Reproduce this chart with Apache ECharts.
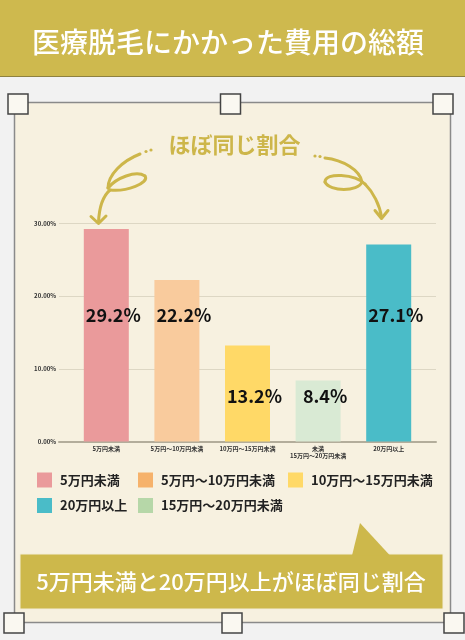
<!DOCTYPE html>
<html>
<head>
<meta charset="utf-8">
<script src="https://cdn.jsdelivr.net/npm/echarts@6/dist/echarts.min.js"></script>
<style>
html,body{margin:0;padding:0;background:#F2F2F2;}
#main{width:465px;height:640px;}
</style>
</head>
<body>
<div id="main"></div>
<script>
// ---- data ----
const categories = ['5万円未満', '5万円～10万円未満', '10万円～15万円未満', '15万円～20万円未満', '20万円以上'];
const axisLabels = ['5万円未満', '5万円～10万円未満', '10万円～15万円未満', '未満\n15万円～20万円未満', '20万円以上'];
const values = [29.2, 22.2, 13.2, 8.4, 27.1];
const yTickLabels = ['0.00%', '10.00%', '20.00%', '30.00%'];
const legendCol1 = ['5万円未満', '20万円以上'];
const legendCol2 = ['5万円～10万円未満', '15万円～20万円未満'];
const legendCol3 = ['10万円～15万円未満'];
const titleText = '医療脱毛にかかった費用の総額';
const noteText = 'ほぼ同じ割合';
const calloutText = '5万円未満と20万円以上がほぼ同じ割合';

// ---- styles ----
const FONT = '"Noto Sans CJK JP", "Noto Sans", sans-serif';
const GOLD = '#CEB94E';
const barColors = ['#EA9A9B', '#F9CB9D', '#FFD967', '#D9EAD4', '#4ABCC8'];
const legendColors = {
  '5万円未満': '#EA9A9B',
  '5万円～10万円未満': '#F6B26B',
  '10万円～15万円未満': '#FFD967',
  '20万円以上': '#4ABCC8',
  '15万円～20万円未満': '#B6D7A8'
};
const labelLift = [117, 117, 36, 36, 117];

const chart = echarts.init(document.getElementById('main'));

function legendComp(names, left) {
  return {
    orient: 'vertical', left: left, top: 472.5, padding: 0,
    itemWidth: 15, itemHeight: 15, itemGap: 10.5,
    icon: 'rect', selectedMode: false,
    textStyle: { fontFamily: FONT, fontSize: 13, fontWeight: 'bold', color: '#222', padding: [0, 0, 0, 3] },
    data: names.map(n => ({ name: n, itemStyle: { color: legendColors[n] } }))
  };
}

function handle(cx, cy) {
  return {
    type: 'rect', z: 20,
    shape: { x: cx - 10, y: cy - 10, width: 20, height: 20 },
    style: { fill: '#FAF8F1', stroke: '#444', lineWidth: 1.5 }
  };
}

const arrowStyle = { stroke: '#CDB64A', lineWidth: 3, fill: null, lineCap: 'round', lineJoin: 'round' };
function curve(p) {
  return {
    type: 'bezierCurve', z: 5,
    shape: { x1: p[0], y1: p[1], cpx1: p[2], cpy1: p[3], cpx2: p[4], cpy2: p[5], x2: p[6], y2: p[7] },
    style: arrowStyle
  };
}
function head(pts) {
  return { type: 'polyline', z: 5, shape: { points: pts }, style: arrowStyle };
}
function dot(cx, cy) {
  return { type: 'circle', z: 5, shape: { cx: cx, cy: cy, r: 1.6 }, style: { fill: '#CDB64A' } };
}

const option = {
  backgroundColor: '#F2F2F2',
  animation: false,
  graphic: [
    { type: 'rect', z: -10, shape: { x: 0, y: 0, width: 465, height: 76 }, style: { fill: GOLD } },
    { type: 'line', z: -10, shape: { x1: 0, y1: 76.5, x2: 465, y2: 76.5 }, style: { stroke: '#8E8140', lineWidth: 1.2 } },
    { type: 'text', z: 5, x: 228, y: 42, style: { text: titleText, fill: '#fff', font: '500 28px ' + FONT, textAlign: 'center', textVerticalAlign: 'middle' } },
    { type: 'rect', z: -10, shape: { x: 14.5, y: 102.5, width: 436, height: 520 }, style: { fill: '#F7F1E0', stroke: '#8A8A8A', lineWidth: 1.5 } },
    handle(18, 104), handle(230.5, 104), handle(443, 104),
    handle(14, 623), handle(232, 623), handle(454, 623),
    { type: 'text', z: 5, x: 234.5, y: 145, style: { text: noteText, fill: '#CDB64A', font: 'bold 22px ' + FONT, textAlign: 'center', textVerticalAlign: 'middle' } },
    // left curly arrow
    curve([140, 154, 122, 161, 108, 175, 108, 188]),
    curve([108, 188, 116, 178, 136, 170, 145, 176]),
    curve([145, 176, 150, 183, 126, 192, 110, 190]),
    curve([110, 190, 102, 197, 99, 210, 98.5, 222.5]),
    head([[91, 216.5], [98.5, 223.5], [106, 216]]),
    dot(146, 151.5), dot(151, 150),
    // right curly arrow
    curve([325, 158, 343, 160, 360, 170, 362, 182]),
    curve([362, 182, 358, 192, 330, 192, 325, 182]),
    curve([325, 182, 325, 172, 355, 174, 365, 184]),
    curve([365, 184, 373, 192, 380, 205, 381.5, 217.5]),
    head([[375, 210.5], [381.5, 218.5], [388, 210.5]]),
    dot(315, 156), dot(320, 156.5),
    // callout
    { type: 'rect', z: 5, shape: { x: 20, y: 554, width: 423, height: 55 }, style: { fill: '#CDB84B', stroke: '#F3EDD8', lineWidth: 1 } },
    { type: 'polygon', z: 6, shape: { points: [[352, 555.5], [360, 523], [390, 555.5]] }, style: { fill: '#CDB84B' } },
    { type: 'text', z: 7, x: 231, y: 582, style: { text: calloutText, fill: '#fff', font: '500 22px ' + FONT, textAlign: 'center', textVerticalAlign: 'middle' } }
  ],
  legend: [legendComp(legendCol1, 37), legendComp(legendCol2, 138), legendComp(legendCol3, 288)],
  grid: [
    { left: 71, right: 41, top: 223.3, bottom: 198.5 },
    { left: 59, right: 29, top: 223.3, bottom: 198.5 }
  ],
  xAxis: [
    {
      type: 'category', gridIndex: 0, data: categories,
      axisLine: { show: false }, axisTick: { show: false },
      axisLabel: {
        interval: 0, margin: 4, fontFamily: FONT, fontSize: 6, fontWeight: 'bold', color: '#333', lineHeight: 7,
        formatter: (v, i) => axisLabels[i]
      }
    },
    {
      type: 'value', gridIndex: 1, min: 0, max: 1, show: true,
      axisLine: { show: true, lineStyle: { color: '#B3AD9B', width: 2 } },
      axisTick: { show: false }, axisLabel: { show: false }, splitLine: { show: false }
    }
  ],
  yAxis: [
    { type: 'value', gridIndex: 0, min: 0, max: 30, interval: 10, show: false },
    {
      type: 'value', gridIndex: 1, min: 0, max: 30, interval: 10,
      axisLine: { show: false }, axisTick: { show: false },
      splitLine: { lineStyle: { color: '#DDD7C4', width: 1 } },
      axisLabel: {
        margin: 3, fontFamily: FONT, fontSize: 6, fontWeight: 'bold', color: '#333',
        formatter: v => yTickLabels[Math.round(v / 10)]
      }
    }
  ],
  series: categories.map((name, i) => ({
    type: 'bar', name: name, xAxisIndex: 0, yAxisIndex: 0,
    data: values.map((v, j) => (j === i ? v : '-')),
    barWidth: 45, barGap: '-100%', z: 3,
    itemStyle: { color: barColors[i] },
    label: {
      show: true, position: 'insideBottom', distance: labelLift[i], offset: [7, 0],
      formatter: '{c}%', fontFamily: FONT, fontSize: 18, fontWeight: 'bold', color: '#111'
    }
  }))
};
chart.setOption(option);
</script>
</body>
</html>
